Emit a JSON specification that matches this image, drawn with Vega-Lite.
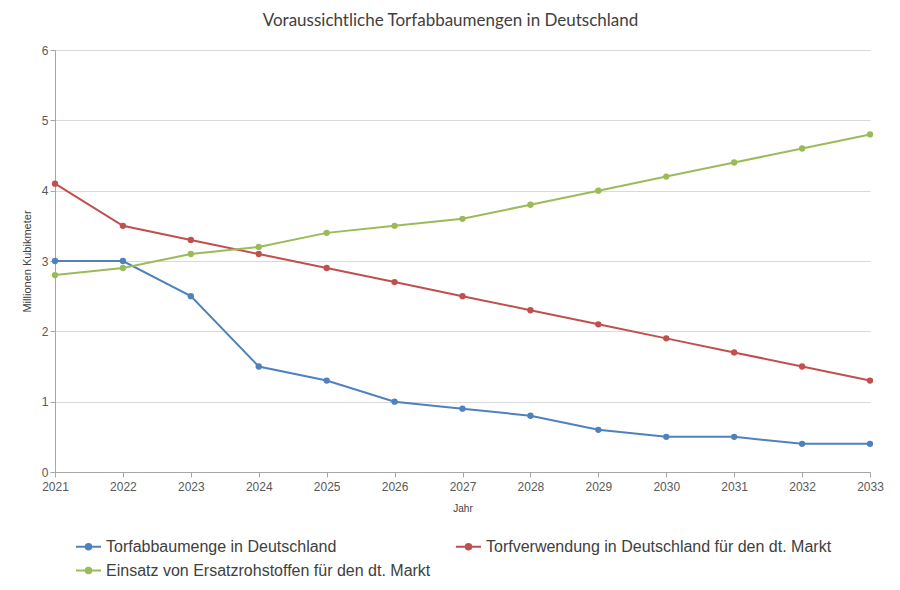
{
  "$schema": "https://vega.github.io/schema/vega-lite/v6.json",
  "width": 815,
  "height": 422,
  "autosize": "none",
  "padding": {"left": 55, "top": 50, "right": 30, "bottom": 118},
  "background": "white",
  "title": {
    "text": "Voraussichtliche Torfabbaumengen in Deutschland",
    "font": "Lato",
    "fontSize": 17,
    "fontWeight": "normal",
    "color": "#404040",
    "anchor": "middle",
    "dx": -12,
    "offset": 14
  },
  "data": {
    "values": [
      {"Jahr": "2021", "Reihe": "Torfabbaumenge in Deutschland", "Wert": 3.0},
      {"Jahr": "2022", "Reihe": "Torfabbaumenge in Deutschland", "Wert": 3.0},
      {"Jahr": "2023", "Reihe": "Torfabbaumenge in Deutschland", "Wert": 2.5},
      {"Jahr": "2024", "Reihe": "Torfabbaumenge in Deutschland", "Wert": 1.5},
      {"Jahr": "2025", "Reihe": "Torfabbaumenge in Deutschland", "Wert": 1.3},
      {"Jahr": "2026", "Reihe": "Torfabbaumenge in Deutschland", "Wert": 1.0},
      {"Jahr": "2027", "Reihe": "Torfabbaumenge in Deutschland", "Wert": 0.9},
      {"Jahr": "2028", "Reihe": "Torfabbaumenge in Deutschland", "Wert": 0.8},
      {"Jahr": "2029", "Reihe": "Torfabbaumenge in Deutschland", "Wert": 0.6},
      {"Jahr": "2030", "Reihe": "Torfabbaumenge in Deutschland", "Wert": 0.5},
      {"Jahr": "2031", "Reihe": "Torfabbaumenge in Deutschland", "Wert": 0.5},
      {"Jahr": "2032", "Reihe": "Torfabbaumenge in Deutschland", "Wert": 0.4},
      {"Jahr": "2033", "Reihe": "Torfabbaumenge in Deutschland", "Wert": 0.4},
      {"Jahr": "2021", "Reihe": "Torfverwendung in Deutschland für den dt. Markt", "Wert": 4.1},
      {"Jahr": "2022", "Reihe": "Torfverwendung in Deutschland für den dt. Markt", "Wert": 3.5},
      {"Jahr": "2023", "Reihe": "Torfverwendung in Deutschland für den dt. Markt", "Wert": 3.3},
      {"Jahr": "2024", "Reihe": "Torfverwendung in Deutschland für den dt. Markt", "Wert": 3.1},
      {"Jahr": "2025", "Reihe": "Torfverwendung in Deutschland für den dt. Markt", "Wert": 2.9},
      {"Jahr": "2026", "Reihe": "Torfverwendung in Deutschland für den dt. Markt", "Wert": 2.7},
      {"Jahr": "2027", "Reihe": "Torfverwendung in Deutschland für den dt. Markt", "Wert": 2.5},
      {"Jahr": "2028", "Reihe": "Torfverwendung in Deutschland für den dt. Markt", "Wert": 2.3},
      {"Jahr": "2029", "Reihe": "Torfverwendung in Deutschland für den dt. Markt", "Wert": 2.1},
      {"Jahr": "2030", "Reihe": "Torfverwendung in Deutschland für den dt. Markt", "Wert": 1.9},
      {"Jahr": "2031", "Reihe": "Torfverwendung in Deutschland für den dt. Markt", "Wert": 1.7},
      {"Jahr": "2032", "Reihe": "Torfverwendung in Deutschland für den dt. Markt", "Wert": 1.5},
      {"Jahr": "2033", "Reihe": "Torfverwendung in Deutschland für den dt. Markt", "Wert": 1.3},
      {"Jahr": "2021", "Reihe": "Einsatz von Ersatzrohstoffen für den dt. Markt", "Wert": 2.8},
      {"Jahr": "2022", "Reihe": "Einsatz von Ersatzrohstoffen für den dt. Markt", "Wert": 2.9},
      {"Jahr": "2023", "Reihe": "Einsatz von Ersatzrohstoffen für den dt. Markt", "Wert": 3.1},
      {"Jahr": "2024", "Reihe": "Einsatz von Ersatzrohstoffen für den dt. Markt", "Wert": 3.2},
      {"Jahr": "2025", "Reihe": "Einsatz von Ersatzrohstoffen für den dt. Markt", "Wert": 3.4},
      {"Jahr": "2026", "Reihe": "Einsatz von Ersatzrohstoffen für den dt. Markt", "Wert": 3.5},
      {"Jahr": "2027", "Reihe": "Einsatz von Ersatzrohstoffen für den dt. Markt", "Wert": 3.6},
      {"Jahr": "2028", "Reihe": "Einsatz von Ersatzrohstoffen für den dt. Markt", "Wert": 3.8},
      {"Jahr": "2029", "Reihe": "Einsatz von Ersatzrohstoffen für den dt. Markt", "Wert": 4.0},
      {"Jahr": "2030", "Reihe": "Einsatz von Ersatzrohstoffen für den dt. Markt", "Wert": 4.2},
      {"Jahr": "2031", "Reihe": "Einsatz von Ersatzrohstoffen für den dt. Markt", "Wert": 4.4},
      {"Jahr": "2032", "Reihe": "Einsatz von Ersatzrohstoffen für den dt. Markt", "Wert": 4.6},
      {"Jahr": "2033", "Reihe": "Einsatz von Ersatzrohstoffen für den dt. Markt", "Wert": 4.8}
    ]
  },
  "encoding": {
    "x": {
      "field": "Jahr",
      "type": "ordinal",
      "scale": {"type": "point", "padding": 0},
      "axis": {
        "title": "Jahr",
        "labelAngle": 0,
        "labelPadding": 4,
        "titleFontSize": 10,
        "titleFontWeight": "normal",
        "titlePadding": 11
      }
    },
    "y": {
      "field": "Wert",
      "type": "quantitative",
      "scale": {"domain": [0, 6]},
      "axis": {
        "title": "Millionen Kubikmeter",
        "values": [0, 1, 2, 3, 4, 5, 6],
        "titleFontSize": 11,
        "titleFontWeight": "normal",
        "titlePadding": 9
      }
    },
    "color": {
      "field": "Reihe",
      "type": "nominal",
      "sort": [
        "Torfabbaumenge in Deutschland",
        "Torfverwendung in Deutschland für den dt. Markt",
        "Einsatz von Ersatzrohstoffen für den dt. Markt"
      ],
      "scale": {"range": ["#4F81BD", "#C0504D", "#9BBB59"]},
      "legend": {
        "title": null,
        "orient": "none",
        "legendX": 20,
        "legendY": 483,
        "direction": "horizontal",
        "columns": 2,
        "columnPadding": 21,
        "rowPadding": 2,
        "labelFont": "Liberation Sans",
        "labelFontSize": 16,
        "labelColor": "#404040",
        "labelLimit": 450,
        "labelOffset": 4,
        "symbolType": "M-1,0H1M-0.22,0A0.22,0.22 0 1,1 0.22,0A0.22,0.22 0 1,1 -0.22,0Z",
        "symbolSize": 625,
        "symbolStrokeWidth": 2
      }
    }
  },
  "layer": [
    {"mark": {"type": "line", "strokeWidth": 2}},
    {"mark": {"type": "point", "filled": true, "opacity": 1, "size": 40}}
  ],
  "config": {
    "view": {"stroke": null},
    "axis": {
      "labelFont": "Liberation Sans",
      "labelFontSize": 12,
      "labelColor": "#595959",
      "titleFont": "Liberation Sans",
      "titleColor": "#404040",
      "gridColor": "#d9d9d9",
      "gridWidth": 1,
      "domainColor": "#a6a6a6",
      "tickColor": "#a6a6a6",
      "tickSize": 5
    }
  }
}
